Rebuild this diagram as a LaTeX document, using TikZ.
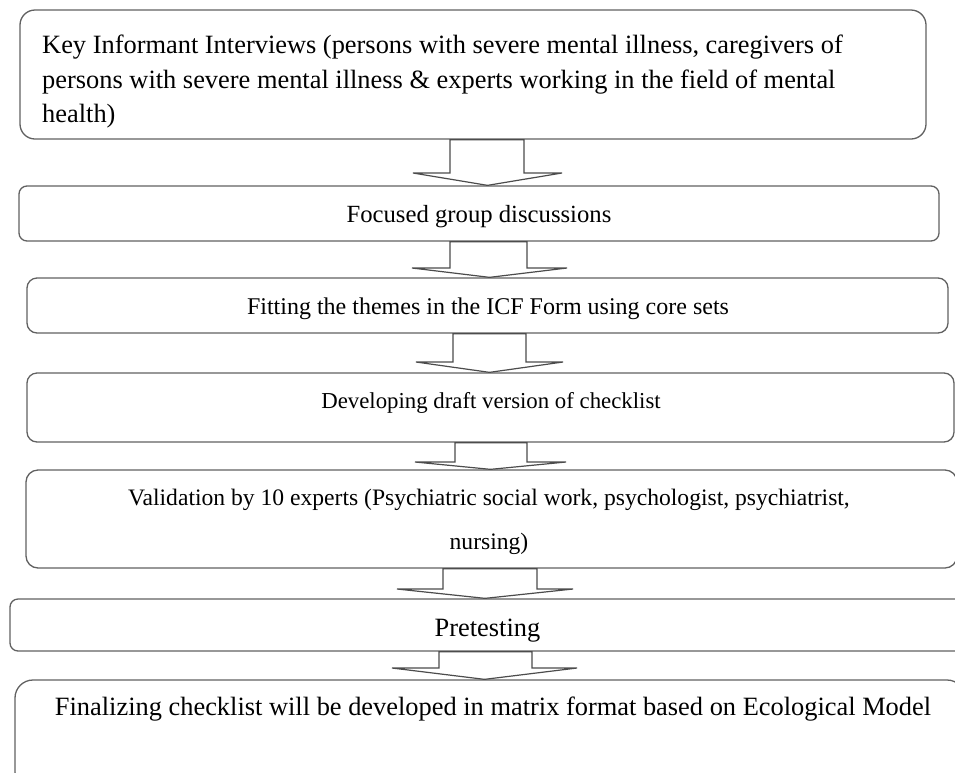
\documentclass[tikz,border=0pt]{standalone}
\usepackage{fontspec}
\setmainfont{Liberation Serif}
\usetikzlibrary{calc}
\tikzset{
  box/.style={draw=black!62, line width=1.3pt, fill=white, inner sep=0pt},
  txt/.style={inner sep=0pt, text=black},
  arr/.style={draw=black!70, line width=1.2pt, fill=white, line join=miter},
}
\newcommand\fs[2]{\fontsize{#1}{#2}\selectfont}
% block arrow: from node, to node, stem left x, stem right x, head left x, head right x, shoulder y
\newcommand\blockarr[7]{%
  \filldraw[arr] let \p1=(#1.south), \p2=(#2.north) in
    ({#3pt},\y1) -- ({#3pt},{-#7pt}) -- ({#5pt},{-#7pt}) -- ({#5pt/2+#6pt/2},\y2)
    -- ({#6pt},{-#7pt}) -- ({#4pt},{-#7pt}) -- ({#4pt},\y1) -- cycle;}
\begin{document}
\begin{tikzpicture}[x=1pt,y=-1pt]
\useasboundingbox (0,0) rectangle (955,772);
\clip (0,0) rectangle (955,772);

% boxes
\node[box, rounded corners=15pt, minimum width=906pt, minimum height=129pt] (b1) at (473,74.5) {};
\node[box, rounded corners=8pt,  minimum width=920pt, minimum height=55pt]  (b2) at (479,213.5) {};
\node[box, rounded corners=10pt, minimum width=921pt, minimum height=55pt]  (b3) at (487.5,305.5) {};
\node[box, rounded corners=10pt, minimum width=927pt, minimum height=69pt]  (b4) at (490.5,407.5) {};
\node[box, rounded corners=12pt, minimum width=931pt, minimum height=98pt]  (b5) at (491.5,519) {};
\node[box, rounded corners=8pt,  minimum width=955pt, minimum height=52pt]  (b6) at (487.5,625) {};
\node[box, rounded corners=18pt, minimum width=950pt, minimum height=110pt] (b7) at (490,735) {};

% texts
\node[txt, anchor=west, align=left, font=\fs{26.4}{34.5}] (t1) at (42,82)
  {Key Informant Interviews (persons with severe mental illness, caregivers of\\
   persons with severe mental illness \& experts working in the field of mental\\
   health)};
\node[txt, font=\fs{24.7}{30}] (t2) at (479,216.5) {Focused group discussions};
\node[txt, font=\fs{24}{30}] (t3) at (488,308.5) {Fitting the themes in the ICF Form using core sets};
\node[txt, font=\fs{22.8}{30}] (t4) at (491,403) {Developing draft version of checklist};
\node[txt, align=center, font=\fs{23.6}{44}] (t5) at (489,521.5)
  {Validation by 10 experts (Psychiatric social work, psychologist, psychiatrist,\\ nursing)};
\node[txt, font=\fs{26.4}{30}] (t6) at (487.5,631) {Pretesting};
\node[txt, font=\fs{26.4}{30}] (t7) at (493,709)
  {Finalizing checklist will be developed in matrix format based on Ecological Model};

% block arrows
\blockarr{b1}{b2}{450}{524}{413}{562}{173}
\blockarr{b2}{b3}{450}{527}{412}{567}{268}
\blockarr{b3}{b4}{453}{526}{416}{563}{362}
\blockarr{b4}{b5}{455}{527}{415}{566}{462}
\blockarr{b5}{b6}{443}{537}{397}{573}{589}
\blockarr{b6}{b7}{439}{532}{392}{577}{668}
\end{tikzpicture}
\end{document}
